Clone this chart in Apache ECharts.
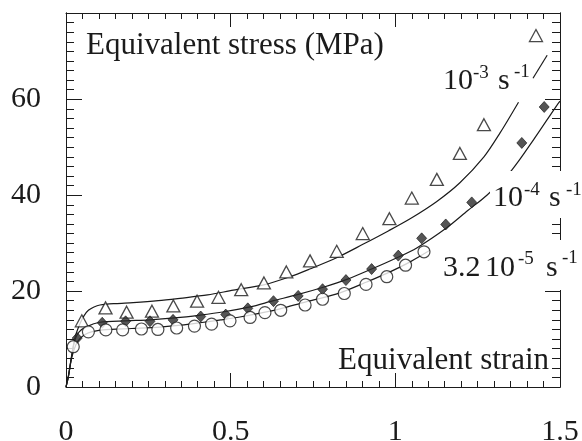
<!DOCTYPE html>
<html><head><meta charset="utf-8">
<style>html,body{margin:0;padding:0;background:#fff}#c{width:582px;height:441px}</style>
<script src="https://cdn.jsdelivr.net/npm/echarts@6/dist/echarts.min.js"></script>
</head><body><div id="c"></div>
<script>
// ---- data (strain, equivalent stress MPa) ----
const triangles_1e3 = [[0.048,13.8],[0.120,16.5],[0.184,15.6],[0.261,15.8],[0.326,16.9],[0.398,17.9],[0.463,18.7],[0.532,20.3],[0.601,21.7],[0.669,24.0],[0.741,26.3],[0.822,28.3],[0.901,32.0],[0.982,35.1],[1.050,39.4],[1.126,43.3],[1.196,48.7],[1.269,54.7],[1.427,73.3]];
const diamonds_1e4 = [[0.034,10.2],[0.110,13.4],[0.181,13.7],[0.255,13.7],[0.325,14.0],[0.409,14.7],[0.485,15.1],[0.552,16.4],[0.630,17.9],[0.705,19.0],[0.779,20.4],[0.850,22.3],[0.928,24.6],[1.009,27.4],[1.080,31.0],[1.153,33.9],[1.232,38.5],[1.384,50.9],[1.452,58.4]];
const circles_32e5 = [[0.022,8.4],[0.068,11.5],[0.121,11.9],[0.172,11.9],[0.229,12.1],[0.279,12.0],[0.336,12.3],[0.390,12.7],[0.442,13.1],[0.498,13.8],[0.559,14.5],[0.604,15.5],[0.652,16.0],[0.726,17.1],[0.779,18.3],[0.845,19.5],[0.911,21.4],[0.974,23.0],[1.031,25.4],[1.087,28.2]];
const model_1e3 = [[0,0],[0.007,2.1],[0.017,6.5],[0.028,10.5],[0.043,13.3],[0.055,14.9],[0.068,16.0],[0.085,16.7],[0.103,17.1],[0.15,17.4],[0.204,17.6],[0.28,18.0],[0.346,18.5],[0.43,19.2],[0.508,20.2],[0.6,21.3],[0.68,23.0],[0.74,24.6],[0.82,26.9],[0.90,29.7],[0.98,32.6],[1.05,35.3],[1.126,38.7],[1.196,42.6],[1.269,48.0],[1.318,53.0],[1.374,59.4]];
const model_1e4 = [[0,0],[0.007,2.1],[0.017,6.3],[0.027,9.8],[0.04,11.5],[0.063,12.6],[0.103,13.5],[0.18,13.8],[0.255,14.0],[0.33,14.4],[0.407,15.0],[0.48,15.7],[0.559,16.7],[0.63,18.0],[0.70,19.2],[0.781,20.8],[0.855,22.5],[0.928,24.6],[1.0,26.8],[1.065,29.0],[1.156,33.2],[1.22,36.8],[1.278,40.0],[1.353,45.2],[1.42,51.6],[1.49,58.7],[1.5,59.6]];
const model_32e5 = [[0,0],[0.007,2.1],[0.017,6.0],[0.03,8.8],[0.045,10.3],[0.068,11.3],[0.113,11.9],[0.2,12.2],[0.285,12.5],[0.35,12.9],[0.407,13.4],[0.47,14.0],[0.528,14.6],[0.59,15.4],[0.65,16.3],[0.726,17.7],[0.79,18.8],[0.842,19.9],[0.913,21.9],[0.974,23.7],[1.045,26.1],[1.105,28.5]];
const leader_1e3 = [[1.418,64.4],[1.461,69.2]];
const xTicks = {min:0, max:1.5, major:0.5};
const yTicks = {min:0, max:78, major:20, minor:2};

// ---- chart ----
const FONT = 'Liberation Serif';
const INK = '#1b1b1b';
const chart = echarts.init(document.getElementById('c'), null, {renderer:'canvas'});
const axLine = {show:true, onZero:false, lineStyle:{color:INK, width:1}};
function xAx(pos, labels){
  return {type:'value', position:pos, min:xTicks.min, max:xTicks.max, interval:xTicks.major,
    axisLine:axLine, splitLine:{show:false},
    axisTick:{show:true, inside:true, length:14, lineStyle:{color:INK}},
    minorTick:{show:true, splitNumber:10, length:6, lineStyle:{color:INK}},
    axisLabel:{show:labels, fontFamily:FONT, fontSize:30, color:INK, margin:30}};
}
function yAx(pos, interval, len, labels){
  return {type:'value', position:pos, min:yTicks.min, max:yTicks.max, interval:interval,
    axisLine:axLine, splitLine:{show:false},
    axisTick:{show:true, inside:true, length:len, lineStyle:{color:INK}},
    axisLabel:{show:labels, fontFamily:FONT, fontSize:30, color:INK, margin:25, showMaxLabel:false}};
}
function txt(s, x, y, size, align, z){
  return {type:'text', x:x, y:y, z:z||101,
    style:{text:s, fontFamily:FONT, fontSize:size, fill:INK, align:align||'left', verticalAlign:'middle'}};
}
function bg(x, y, w, h){
  return {type:'rect', z:100, shape:{x:x, y:y, width:w, height:h}, style:{fill:'#fff'}};
}
const lineStyle = {color:INK, width:1.2};
chart.setOption({
  animation:false,
  backgroundColor:'#fff',
  grid:{left:66, right:22, top:13, bottom:54, containLabel:false, outerBoundsMode:'none'},
  xAxis:[xAx('bottom', true), xAx('top', false)],
  yAxis:[yAx('left', yTicks.major, 16, true), yAx('left', yTicks.minor, 8, false),
         yAx('right', yTicks.major, 15, false), yAx('right', yTicks.minor, 8, false)],
  series:[
    {type:'line', data:model_1e3, showSymbol:false, smooth:0.3, lineStyle:lineStyle, z:2,
      markLine:{silent:true, symbol:['none','none'], label:{show:false}, lineStyle:{color:INK, width:1.2, type:'solid'},
        data:[[{coord:leader_1e3[0]},{coord:leader_1e3[1]}]]}},
    {type:'line', data:model_1e4, showSymbol:false, smooth:0.3, lineStyle:lineStyle, z:2},
    {type:'line', data:model_32e5, showSymbol:false, smooth:0.3, lineStyle:lineStyle, z:2},
    {type:'scatter', data:triangles_1e3, symbol:'triangle', symbolSize:[13,12], z:3,
      itemStyle:{color:'#fff', borderColor:INK, borderWidth:1.3}},
    {type:'scatter', data:diamonds_1e4, symbol:'diamond', symbolSize:[10,11], z:3,
      itemStyle:{color:'#2a2a2a', borderColor:'#111', borderWidth:0.8}},
    {type:'scatter', data:circles_32e5, symbol:'circle', symbolSize:12, z:4,
      itemStyle:{color:'#fff', borderColor:INK, borderWidth:1.2}}
  ],
  graphic:[
    txt('Equivalent stress (MPa)', 86, 46, 31),
    txt('Equivalent strain', 549, 361, 31, 'right'),
    // 10^-3 s^-1
    txt('10', 443, 81, 30), txt('-3', 473, 73, 19), txt('s', 498, 81, 30), txt('-1', 514, 72, 19),
    // 10^-4 s^-1
    bg(490, 171, 92, 47),
    txt('10', 493, 198, 30), txt('-4', 524, 190, 19), txt('s', 549, 198, 30), txt('-1', 566, 190, 19),
    // 3.2 10^-5 s^-1
    bg(440, 240, 142, 50),
    txt('3.2', 443, 268, 30), txt('10', 485, 268, 30), txt('-5', 518, 259, 19), txt('s', 546, 268, 30), txt('-1', 562, 258, 19)
  ]
});
</script></body></html>
